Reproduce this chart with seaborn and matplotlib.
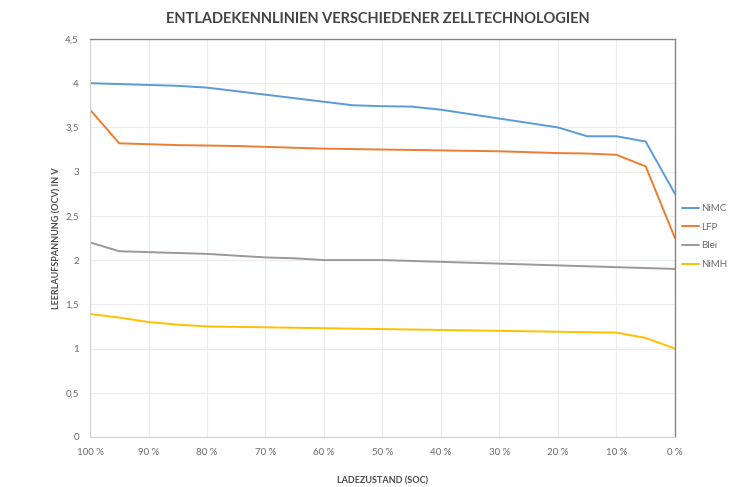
import matplotlib
matplotlib.use("Agg")
import matplotlib.pyplot as plt
import matplotlib.ticker as mticker
import pandas as pd
import seaborn as sns

# state of charge in percent (x axis, runs from 100 % down to 0 %)
soc = [100, 95, 90, 85, 80, 75, 70, 65, 60, 55, 50, 45, 40, 35, 30, 25, 20, 15, 10, 5, 0]

# open circuit voltage per cell technology, V
nimc = [4.00, 3.99, 3.98, 3.97, 3.95, 3.91, 3.87, 3.83, 3.79, 3.75, 3.74,
        3.735, 3.70, 3.65, 3.60, 3.55, 3.50, 3.40, 3.40, 3.34, 2.75]
lfp = [3.70, 3.32, 3.31, 3.30, 3.295, 3.29, 3.28, 3.27, 3.26, 3.255, 3.25,
       3.245, 3.24, 3.235, 3.23, 3.22, 3.21, 3.205, 3.19, 3.06, 2.25]
blei = [2.20, 2.10, 2.09, 2.08, 2.07, 2.05, 2.03, 2.02, 2.00, 2.00, 2.00,
        1.99, 1.98, 1.97, 1.96, 1.95, 1.94, 1.93, 1.92, 1.91, 1.90]
nimh = [1.39, 1.35, 1.30, 1.27, 1.25, 1.245, 1.24, 1.235, 1.23, 1.225, 1.22,
        1.215, 1.21, 1.205, 1.20, 1.195, 1.19, 1.185, 1.18, 1.12, 1.00]

series_names = ["NiMC", "LFP", "Blei", "NiMH"]
series_colors = ["#5B9BD5", "#ED7D31", "#9E9797", "#FFC000"]

x_ticks = [100, 90, 80, 70, 60, 50, 40, 30, 20, 10, 0]
y_ticks = [0, 0.5, 1, 1.5, 2, 2.5, 3, 3.5, 4, 4.5]

df = pd.concat(
    [pd.DataFrame({"soc": soc, "ocv": vals, "tech": name})
     for name, vals in zip(series_names, [nimc, lfp, blei, nimh])],
    ignore_index=True,
)

sns.set_style("white")
plt.rcParams["font.family"] = ["Lato", "DejaVu Sans"]

fig = plt.figure(figsize=(7.47, 4.87), dpi=100)
ax = fig.add_axes([0.1205, 0.1027, 0.783, 0.8173])

sns.lineplot(data=df, x="soc", y="ocv", hue="tech", hue_order=series_names,
             palette=series_colors, linewidth=1.4, ax=ax, legend=True)

ax.set_xlim(100, 0)
ax.set_ylim(0, 4.5)
ax.set_xticks(x_ticks)
ax.set_yticks(y_ticks)
ax.xaxis.set_major_formatter(mticker.FuncFormatter(lambda v, p: f"{int(v)} %"))
ax.yaxis.set_major_formatter(
    mticker.FuncFormatter(lambda v, p: f"{v:g}".replace(".", ",")))
ax.tick_params(axis="both", length=0, labelsize=7, labelcolor="#6b6b6b")
ax.tick_params(axis="x", pad=8)
ax.tick_params(axis="y", pad=8)
ax.grid(True, color="#ececec", linewidth=0.8)

for side in ["left", "bottom"]:
    ax.spines[side].set_color("#d0d0d0")
    ax.spines[side].set_linewidth(0.8)
for side in ["top", "right"]:
    ax.spines[side].set_color("#8a8282")
    ax.spines[side].set_linewidth(1.0)

ax.set_xlabel("LADEZUSTAND (SOC)", fontsize=6.5, fontweight="bold",
              color="#4a4a4a", labelpad=14)
ax.set_ylabel("LEERLAUFSPANNUNG (OCV) IN V", fontsize=6.5, fontweight="bold",
              color="#4a4a4a", labelpad=3)
fig.suptitle("ENTLADEKENNLINIEN VERSCHIEDENER ZELLTECHNOLOGIEN", x=0.506, y=0.975,
             fontsize=10.5, fontweight="bold", color="#444444")

leg = ax.legend(loc="upper left", bbox_to_anchor=(1.005, 0.595), frameon=False,
                fontsize=7, handlelength=1.8, handletextpad=0.2,
                labelspacing=1.0, borderaxespad=0)
for t in leg.get_texts():
    t.set_color("#6b6b6b")

fig.savefig("out.png", dpi=100)
plt.close(fig)
